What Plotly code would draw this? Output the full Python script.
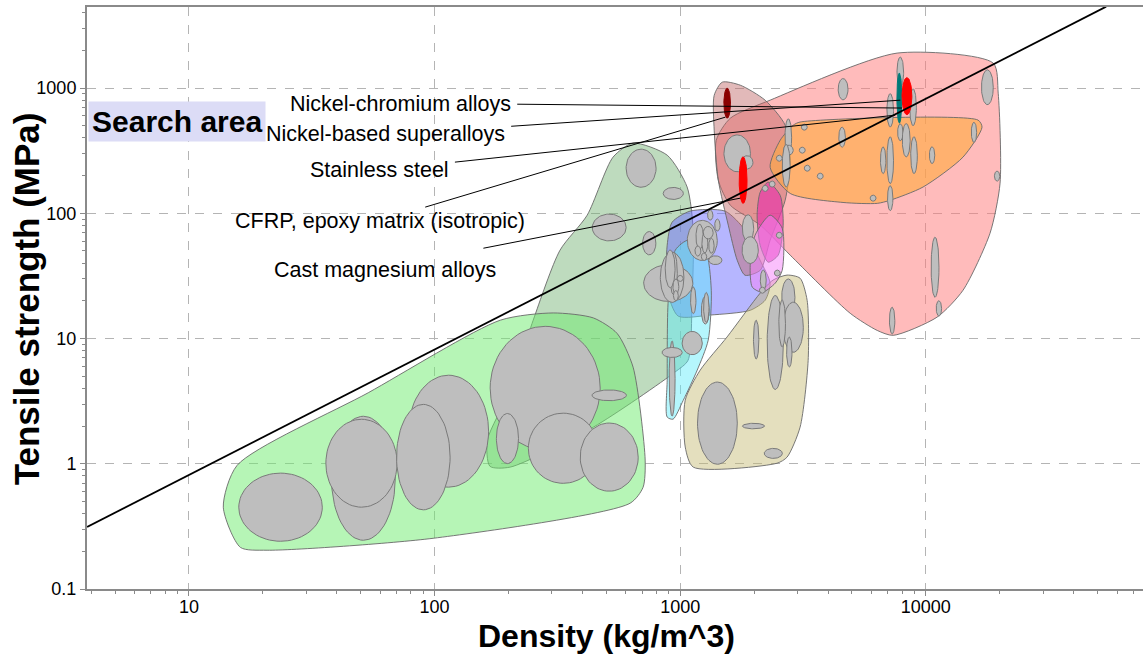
import numpy as np
import plotly.graph_objects as go

# ---------------- data (density kg/m^3, tensile strength MPa) ----------------
# family envelopes (outline vertices)
foam_rho = [15.7, 13.8, 16.2, 20.8, 98.6, 625, 706, 720, 643, 553, 443, 304, 185, 53.7]
foam_sig = [0.97, 0.45, 0.215, 0.204, 0.254, 0.484, 0.649, 1.07, 5.9, 11.0, 14.6, 16.0, 14.0, 3.69]

natural_rho = [643, 885, 1067, 1130, 1117, 1076, 953, 443, 203, 168, 164, 203, 252, 324, 418, 533]
natural_sig = [363, 291, 162, 73, 20.2, 6.7, 5.4, 1.96, 0.94, 0.955, 1.54, 3.87, 14.0, 50.7, 96.5, 281]

polymer_rho = [927, 1096, 1523, 1837, 2114, 2323, 2217, 1927, 1325, 981, 885, 885]
polymer_sig = [84.9, 104, 104, 73.3, 42.2, 27.7, 20.2, 16.8, 15.4, 15.1, 24.3, 55.6]

elastomer_rho = [1079, 1265, 1338, 1300, 1173, 1028, 935, 885, 885, 894, 955]
elastomer_sig = [61.1, 50.8, 24.3, 9.7, 5.6, 3.2, 2.27, 2.36, 4.65, 20.2, 50.8]

ceramic_rho = [2723, 3076, 3286, 3318, 3076, 2723, 2478, 1130, 1048, 1048, 1206, 1552, 2115, 2388]
ceramic_sig = [32.1, 30.3, 20.2, 6.7, 1.96, 1.13, 1.01, 0.94, 1.36, 3.22, 5.59, 10.3, 23.0, 29.3]

metal_rho = [7640, 18800, 19700, 20050, 18250, 14170, 11100, 7360, 6340, 4920, 2804, 2118, 1599, 1429, 1402, 1599, 2323]
metal_sig = [1901, 1581, 910, 174, 69.3, 24.3, 14.8, 10.6, 11.6, 15.9, 46.3, 80.4, 116, 184, 383, 574, 800]

composite_rho = [1483, 1755, 2216, 2675, 2804, 2675, 2323, 2118, 1837, 1706, 1569, 1429, 1375, 1375]
composite_sig = [1114, 1054, 800, 505, 265, 127, 61, 35.1, 32.0, 42.2, 80.4, 184, 460, 875]

alloy_rho = [3076, 16300, 16930, 14170, 9740, 7150, 6340, 4600, 2804, 2323, 2553, 2885]
alloy_sig = [535, 555, 487, 281, 162, 127, 120, 122, 144, 233, 383, 505]

gfrp_rho = [2281, 2553, 2625, 2505, 2281, 2115, 2056, 2115]
gfrp_sig = [177, 139, 80.4, 46.3, 40.7, 55.6, 96.6, 147]

glass_rho = [2323, 2602, 2602, 2438, 2158, 1965, 1927, 2017]
glass_sig = [96.6, 76, 35.1, 27.7, 23.4, 25.7, 38.5, 66.8]

# material bubbles: (density, strength, half spread of density in decades, half spread of strength in decades)
foam_bubbles = [(23.6, 0.45, 0.170, 0.272), (51.3, 0.766, 0.130, 0.495), (50.4, 1.01, 0.145, 0.351),
                (114, 1.82, 0.163, 0.447), (90, 1.13, 0.109, 0.421), (282, 4.02, 0.224, 0.493),
                (198, 1.59, 0.045, 0.20), (334, 1.33, 0.142, 0.28), (514, 1.13, 0.118, 0.272),
                (514, 3.52, 0.070, 0.043)]
natural_bubbles = [(693, 229, 0.061, 0.152), (937, 144, 0.041, 0.048), (514, 77, 0.069, 0.107),
                   (748, 57.7, 0.027, 0.093), (894, 27.7, 0.10, 0.146), (927, 30.8, 0.048, 0.20),
                   (940, 33, 0.015, 0.17), (910, 36, 0.02, 0.15), (960, 26, 0.012, 0.06),
                   (960, 22, 0.01, 0.04), (1000, 30.2, 0.012, 0.024), (1130, 20.2, 0.011, 0.107),
                   (927, 4.79, 0.012, 0.30), (927, 7.74, 0.041, 0.04), (1119, 9.2, 0.041, 0.093),
                   (1265, 16.8, 0.016, 0.11), (1277, 17.7, 0.011, 0.12)]
polymer_bubbles = [(1230, 60.7, 0.061, 0.16), (1200, 65, 0.015, 0.1), (1260, 58, 0.012, 0.08),
                   (1180, 50, 0.012, 0.04), (1300, 70, 0.02, 0.05), (1250, 45, 0.011, 0.03),
                   (1340, 55, 0.011, 0.06), (1390, 42.2, 0.027, 0.035), (1325, 96.6, 0.011, 0.04),
                   (1417, 80.4, 0.011, 0.048)]
mid_bubbles = [(1706, 301, 0.054, 0.147), (1871, 255, 0.024, 0.053), (2755, 405, 0.0135, 0.147),
               (2755, 319, 0.02, 0.04), (2700, 240, 0.016, 0.17), (1888, 76, 0.023, 0.107),
               (1927, 50.8, 0.033, 0.107), (2178, 29.3, 0.012, 0.08)]
small_rho = [2530, 3200, 3140, 3290, 3715, 2218, 2368, 6100, 2530, 2485, 2160]
small_sig = [275, 487, 319, 229, 198, 158, 171, 132, 66.8, 33.3, 24.3]
ceramic_bubbles = [(1417, 2.11, 0.081, 0.328), (1987, 2.0, 0.045, 0.022), (2393, 1.21, 0.037, 0.04),
                   (2438, 9.3, 0.033, 0.375), (2755, 21.3, 0.027, 0.147), (2885, 12.3, 0.041, 0.2),
                   (2600, 13.2, 0.0135, 0.187), (2038, 9.8, 0.011, 0.155), (2780, 7.8, 0.011, 0.12)]
metal_bubbles = [(4603, 979, 0.020, 0.085), (7870, 1340, 0.0135, 0.12), (7160, 664, 0.0135, 0.133),
                 (8870, 702, 0.0135, 0.147), (17800, 1014, 0.024, 0.139), (4560, 405, 0.0135, 0.08),
                 (7870, 443, 0.011, 0.067), (8320, 383, 0.016, 0.133), (8950, 291, 0.0135, 0.147),
                 (7160, 265, 0.0135, 0.187), (6700, 265, 0.011, 0.107), (10600, 291, 0.011, 0.067),
                 (15700, 443, 0.011, 0.08), (7160, 132, 0.011, 0.10), (10900, 37.1, 0.016, 0.24),
                 (11300, 17.4, 0.011, 0.061), (7290, 13.9, 0.011, 0.107), (19500, 198, 0.011, 0.04)]

# highlighted materials
hl_names = ["CFRP, epoxy matrix (isotropic)", "Cast magnesium alloys",
            "Nickel-based superalloys", "Nickel-chromium alloys"]
hl_bubbles = [(1553, 757, 0.0135, 0.12), (1803, 184, 0.016, 0.186),
              (7800, 830, 0.010, 0.20), (8375, 861, 0.020, 0.148)]
hl_colors = ["#8b0000", "#ff0000", "#007a78", "#ff0000"]

# labels and leader lines
label_text = ["Nickel-chromium alloys", "Nickel-based superalloys", "Stainless steel",
              "CFRP, epoxy matrix (isotropic)", "Cast magnesium alloys"]
label_rho = [209, 198, 117, 238, 182]
label_sig = [743, 428, 221, 86.3, 35.1]
leader_start_rho = [217, 205, 121, 91.6, 158]
leader_start_sig = [743, 495, 256, 112, 52.6]
leader_end_rho = [8000, 7870, 7500, 1525, 1755]
leader_end_sig = [692, 800, 607, 585, 132]

# selection line (slope 1 on log-log)
guide_rho = [3.85, 54200]
guide_sig = [0.313, 4466]

# axis ticks
x_tick_vals = [10, 100, 1000, 10000]
x_tick_text = ["10", "100", "1000", "10000"]
y_tick_vals = [0.1, 1, 10, 100, 1000]
y_tick_text = ["0.1", "1", "10", "100", "1000"]

# ---------------- figure ----------------
fig = go.Figure()


def envelope(rho, sig, fill):
    fig.add_trace(go.Scatter(
        x=rho + [rho[0]], y=sig + [sig[0]], mode="lines",
        line=dict(color="rgba(105,105,105,0.9)", width=1, shape="spline", smoothing=0.7),
        fill="toself", fillcolor=fill, hoverinfo="skip", showlegend=False))


def bubble(b, fill="#bebebe", line="#7a7a7a"):
    rho, sig, hx, hy = b
    t = np.linspace(0, 2 * np.pi, 73)
    lx = np.log10(rho) + hx * np.cos(t)
    ly = np.log10(sig) + hy * np.sin(t)
    fig.add_trace(go.Scatter(
        x=10 ** lx, y=10 ** ly, mode="lines", line=dict(color=line, width=1),
        fill="toself", fillcolor=fill, hoverinfo="skip", showlegend=False))


envelope(natural_rho, natural_sig, "rgba(110,175,110,0.45)")
envelope(foam_rho, foam_sig, "rgba(110,235,110,0.5)")
envelope(polymer_rho, polymer_sig, "rgba(110,110,255,0.5)")
envelope(elastomer_rho, elastomer_sig, "rgba(90,235,250,0.45)")
envelope(ceramic_rho, ceramic_sig, "rgba(195,185,110,0.45)")
envelope(metal_rho, metal_sig, "rgba(255,120,120,0.5)")
envelope(composite_rho, composite_sig, "rgba(190,100,100,0.45)")
envelope(alloy_rho, alloy_sig, "rgba(255,170,60,0.6)")
envelope(gfrp_rho, gfrp_sig, "rgba(230,50,170,0.65)")
envelope(glass_rho, glass_sig, "rgba(245,130,250,0.5)")

for group in (foam_bubbles, natural_bubbles, polymer_bubbles, mid_bubbles, ceramic_bubbles, metal_bubbles):
    for b in group:
        bubble(b)
for r, s in zip(small_rho, small_sig):
    bubble((r, s, 0.012, 0.024))
for b, c in zip(hl_bubbles, hl_colors):
    bubble(b, fill=c, line=c)

fig.add_trace(go.Scatter(x=guide_rho, y=guide_sig, mode="lines",
                         line=dict(color="black", width=1.8), hoverinfo="skip", showlegend=False))
for i in range(len(label_text)):
    fig.add_trace(go.Scatter(x=[leader_start_rho[i], leader_end_rho[i]],
                             y=[leader_start_sig[i], leader_end_sig[i]], mode="lines",
                             line=dict(color="black", width=1), hoverinfo="skip", showlegend=False))

FONT = "Liberation Sans, Arial, sans-serif"
annotations = []
for t, r, s in zip(label_text, label_rho, label_sig):
    annotations.append(dict(x=np.log10(r), y=np.log10(s), xref="x", yref="y", text=t,
                            showarrow=False, xanchor="right", yanchor="middle",
                            font=dict(family=FONT, size=21.5, color="black")))
annotations.append(dict(x=0.59, y=np.log10(545), xref="x", yref="y", text="<b>Search area</b>",
                        showarrow=False, xanchor="left", yanchor="middle", bgcolor="#dcdcf6",
                        borderpad=3, font=dict(family=FONT, size=30, color="black")))
annotations.append(dict(x=0.4915, y=-0.0815, xref="paper", yref="paper", text="<b>Density (kg/m^3)</b>",
                        showarrow=False, xanchor="center", yanchor="middle",
                        font=dict(family=FONT, size=32, color="black")))
annotations.append(dict(x=-0.0578, y=0.4995, xref="paper", yref="paper",
                        text="<b>Tensile strength (MPa)</b>", textangle=-90,
                        showarrow=False, xanchor="center", yanchor="middle",
                        font=dict(family=FONT, size=35, color="black")))


def minor_vals(lo_exp, hi_exp):
    return [m * 10.0 ** e for e in range(lo_exp, hi_exp) for m in range(2, 10)]


axis_common = dict(type="log", showgrid=True, gridcolor="#b4b4b4", griddash="dash", gridwidth=1,
                   showline=True, linecolor="#8a8a8a", linewidth=2, ticks="outside", ticklen=5,
                   tickcolor="#8a8a8a", zeroline=False, tickmode="array",
                   tickfont=dict(family=FONT, size=18, color="black"))

fig.update_layout(
    width=1143, height=655,
    margin=dict(l=87, r=0, t=7, b=66, autoexpand=False),
    paper_bgcolor="white", plot_bgcolor="white",
    xaxis=dict(range=[0.585, 4.884], mirror=True, tickvals=x_tick_vals, ticktext=x_tick_text,
               ticklabelstandoff=-5,
               minor=dict(ticks="outside", ticklen=3, tickcolor="#8a8a8a", showgrid=False,
                          tickmode="array", tickvals=minor_vals(0, 5)),
               **axis_common),
    yaxis=dict(range=[-1.0, 3.647], tickvals=y_tick_vals, ticktext=y_tick_text,
               minor=dict(ticks="outside", ticklen=3, tickcolor="#8a8a8a", showgrid=False,
                          tickmode="array", tickvals=minor_vals(-1, 4)),
               **axis_common),
    annotations=annotations,
    showlegend=False,
)

fig.write_html("out.html", config={"displayModeBar": False},
               post_script="document.body.style.margin='0px';document.body.style.overflow='hidden';")
